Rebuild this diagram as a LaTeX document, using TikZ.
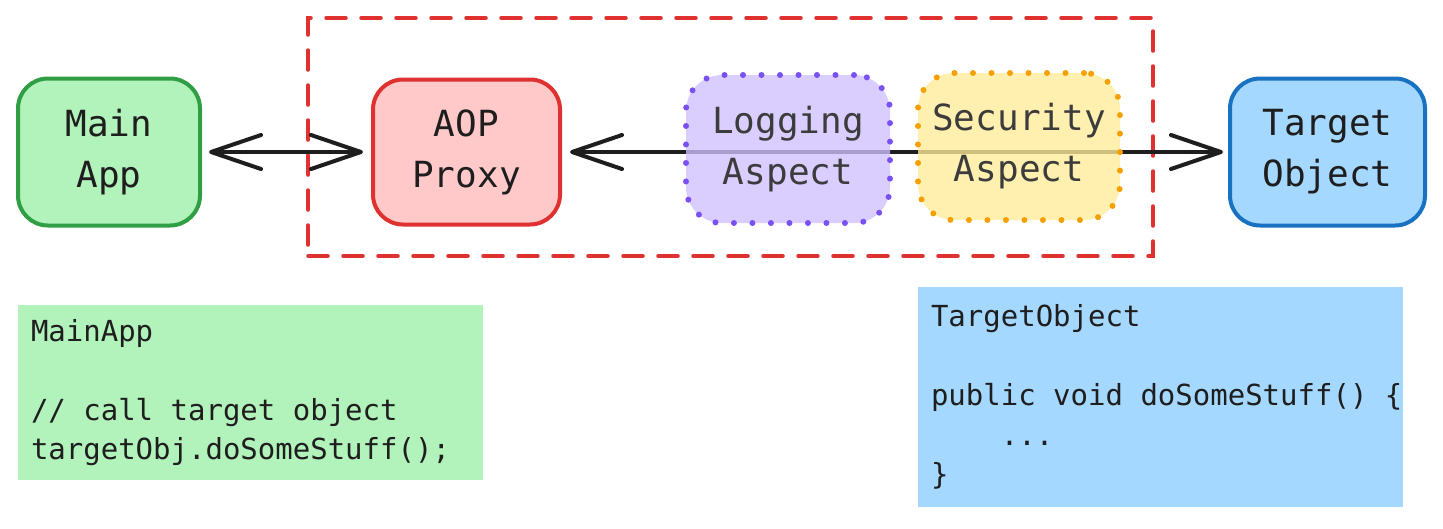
\documentclass[tikz,border=0pt]{standalone}
\usepackage{fontspec}
\setmonofont{DejaVu Sans Mono}
\usetikzlibrary{arrows.meta}
\definecolor{ink}{HTML}{1E1E1E}
\definecolor{greenfill}{HTML}{B2F2BB}
\definecolor{greenline}{HTML}{2F9E44}
\definecolor{redfill}{HTML}{FFC9C9}
\definecolor{redline}{HTML}{E03131}
\definecolor{purplefill}{HTML}{D0BFFF}
\definecolor{purpleline}{HTML}{7950F2}
\definecolor{yellowfill}{HTML}{FFEC99}
\definecolor{yellowline}{HTML}{F59F00}
\definecolor{bluefill}{HTML}{A5D8FF}
\definecolor{blueline}{HTML}{1971C2}
\definecolor{aspecttext}{HTML}{3C3C3C}
\newcommand\msp{\phantom{0}}
\tikzset{
  boxnode/.style={rectangle, rounded corners=30pt, line width=4pt, inner sep=0pt,
    align=center, text=ink, font=\ttfamily\fontsize{36}{51}\selectfont},
  aspectnode/.style={boxnode, draw=#1, fill opacity=0.78, text opacity=1, text=aspecttext,
    rounded corners=36pt, line width=6pt, line cap=round, dash pattern=on 0pt off 18.5pt},
  codebox/.style={rectangle, inner xsep=13pt, inner ysep=0pt, align=left, text=ink,
    font=\ttfamily\fontsize{29}{39.5}\selectfont},
  chev/.tip={Straight Barb[length=50pt,width=34pt,line width=0pt 1,round]},
  conn/.style={draw=ink, line width=4pt, {chev}-{chev}},
}
\begin{document}
\begin{tikzpicture}[x=1pt,y=-1pt]
\useasboundingbox (0,0) rectangle (1443,528);
% group frame
\node[draw=redline, line width=3.5pt, line cap=round, dash pattern=on 20pt off 15pt,
  minimum width=845pt, minimum height=238pt, inner sep=0pt] (group) at (730.5,137) {};
% main nodes
\node[boxnode, draw=greenline, fill=greenfill, minimum width=182pt, minimum height=147pt]
  (main) at (109,152) {Main\\App};
\node[boxnode, draw=redline, fill=redfill, minimum width=187pt, minimum height=145pt]
  (proxy) at (466.5,152) {AOP\\Proxy};
\node[boxnode, draw=blueline, fill=bluefill, minimum width=195pt, minimum height=147pt]
  (target) at (1327.5,152) {Target\\Object};
% connectors
\draw[conn, shorten <=7pt, shorten >=8pt] (main) -- (proxy);
\draw[conn, shorten <=8pt, shorten >=5pt] (proxy) -- (target);
% aspects over the connector
\node[aspectnode=purpleline, fill=purplefill, minimum width=204pt, minimum height=148pt]
  (logging) at (788,149) {Logging\\Aspect};
\node[aspectnode=yellowline, fill=yellowfill, minimum width=202pt, minimum height=147pt]
  (security) at (1019,146.5) {Security\\Aspect};
% code boxes
\node[codebox, fill=greenfill, text width=439pt, minimum height=175pt]
  (maincode) at (250.5,392.5)
  {MainApp\\~\\//\msp call\msp target\msp object\\targetObj.doSomeStuff();};
\node[codebox, fill=bluefill, text width=459pt, minimum height=220pt]
  (targetcode) at (1160.5,397)
  {TargetObject\\~\\public\msp void\msp doSomeStuff()\msp\{\\\msp\msp\msp\msp...\\\}};
\end{tikzpicture}
\end{document}
